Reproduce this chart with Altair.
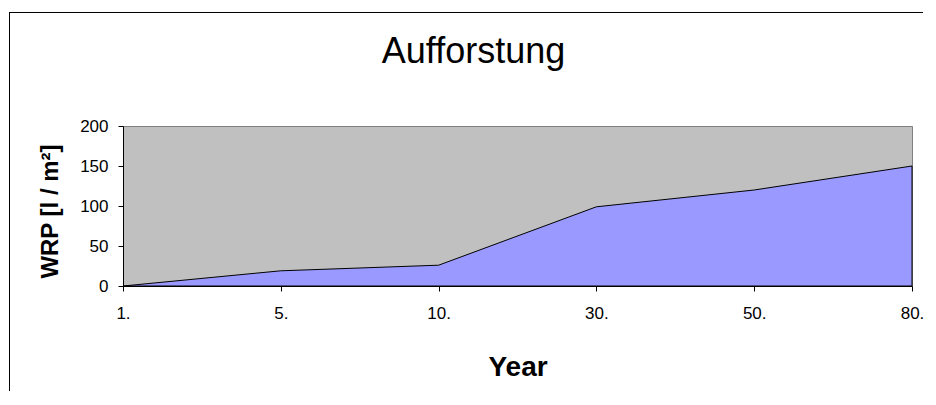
import altair as alt
import pandas as pd

chart_title = "Aufforstung"
years = ["1.", "5.", "10.", "30.", "50.", "80."]
wrp = [0, 19, 26, 99, 120, 150]
y_ticks = [0, 50, 100, 150, 200]

df = pd.DataFrame({"year": years, "wrp": wrp})
one = pd.DataFrame({"t": [chart_title]})

FONT = "Liberation Sans"

area = alt.Chart(df).mark_area(
    color="#9999FF", stroke="black", strokeWidth=1, opacity=1
).encode(
    x=alt.X(
        "year:O", sort=years,
        scale=alt.Scale(type="point", padding=0),
        axis=alt.Axis(
            title="Year", labelAngle=0, labelFont=FONT, labelFontSize=17,
            labelColor="black", tickColor="black", domainColor="black",
            tickSize=5, labelPadding=14, titleFont=FONT, titleFontSize=28,
            titleFontWeight="bold", titleColor="black", titleBaseline="alphabetic",
            titleY=89, titleX=394.5, grid=False,
        ),
    ),
    y=alt.Y(
        "wrp:Q", scale=alt.Scale(domain=[0, 200], nice=False),
        axis=alt.Axis(
            title="WRP [l / m²]", values=y_ticks, labelFont=FONT, labelFontSize=17,
            labelColor="black", tickColor="black", domainColor="black",
            tickSize=5, labelPadding=10, titleFont=FONT, titleFontSize=24,
            titleFontWeight="bold", titleColor="black", titleAngle=270,
            titleBaseline="alphabetic", titleAlign="center", titleX=-66, titleY=85,
            grid=False,
        ),
    ),
)

border_top = alt.Chart(one).mark_rect(color="black", strokeWidth=0).encode(
    x=alt.value(-114), x2=alt.value(800), y=alt.value(-114), y2=alt.value(-113)
)
border_left = alt.Chart(one).mark_rect(color="black", strokeWidth=0).encode(
    x=alt.value(-114), x2=alt.value(-113), y=alt.value(-114), y2=alt.value(265)
)

title = alt.Chart(one).mark_text(
    font=FONT, fontSize=36, color="black", baseline="alphabetic", align="center"
).encode(
    text="t:N", x=alt.value(350.5), y=alt.value(-63)
)

chart = alt.layer(area, border_top, border_left, title).properties(
    width=789, height=160,
    autosize=alt.AutoSizeParams(type="none"),
    padding={"left": 115, "top": 118, "right": 16, "bottom": 111},
    background="white",
).configure_view(
    fill="#C0C0C0", stroke="#808080", strokeWidth=1
)

chart.save("out.html", embed_options={"renderer": "svg", "actions": False})
